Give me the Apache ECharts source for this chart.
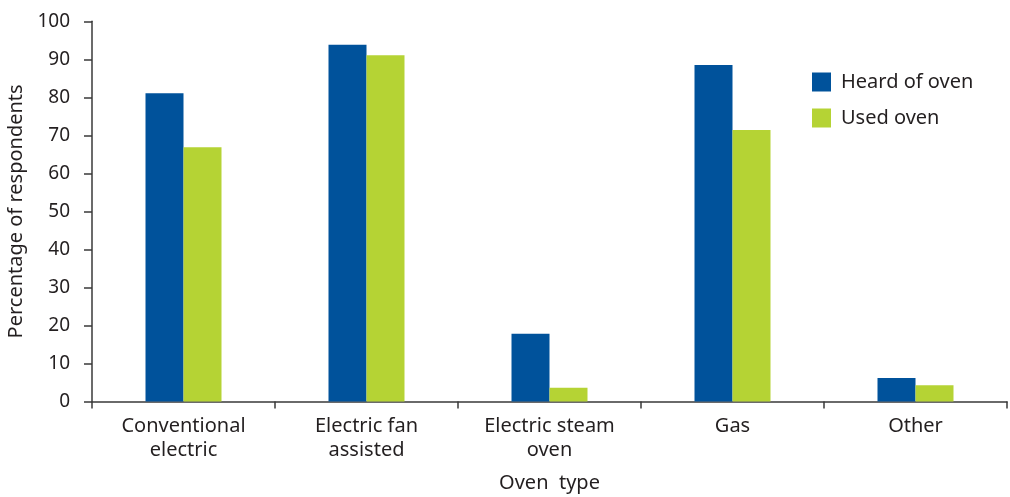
<!DOCTYPE html>
<html>
<head>
<meta charset="utf-8">
<script src="https://cdn.jsdelivr.net/npm/echarts@6/dist/echarts.min.js"></script>
<style>
  html, body { margin: 0; padding: 0; background: #ffffff; }
  #chart { width: 1010px; height: 497px; }
</style>
</head>
<body>
<div id="chart"></div>
<script>
// Oven types surveyed
const categories = ['Conventional\nelectric', 'Electric fan\nassisted', 'Electric steam\noven', 'Gas', 'Other'];
// Share of respondents (%)
const heardOf = [81.1, 93.8, 17.8, 88.5, 6.2];
const usedOven = [66.9, 91.1, 3.6, 71.4, 4.3];
const seriesNames = ['Heard of oven', 'Used oven'];

const textColor = '#231f20';
const fontFamily = '"Noto Sans", sans-serif';

const chart = echarts.init(document.getElementById('chart'), null, { renderer: 'canvas' });

chart.setOption({
  animation: false,
  textStyle: { fontFamily: fontFamily, color: textColor },
  grid: { left: 92, right: 3, top: 21.3, bottom: 95.5, containLabel: false, outerBoundsMode: 'none' },
  legend: {
    orient: 'vertical',
    left: 812,
    top: 72,
    padding: 0,
    itemWidth: 19,
    itemHeight: 19,
    itemGap: 16,
    icon: 'rect',
    data: seriesNames,
    textStyle: { fontSize: 20, color: textColor, fontFamily: fontFamily, padding: [0, 0, 0, 5] }
  },
  xAxis: {
    type: 'category',
    data: categories,
    name: 'Oven  type',
    nameLocation: 'middle',
    nameGap: 72,
    nameTextStyle: { fontSize: 20, color: textColor },
    axisLine: { lineStyle: { color: '#3a3a3a', width: 1.5 } },
    axisTick: { show: true, length: 7, alignWithLabel: false, lineStyle: { color: '#3a3a3a', width: 1.5 } },
    axisLabel: { fontSize: 20, color: textColor, margin: 13, lineHeight: 24, interval: 0 }
  },
  yAxis: {
    type: 'value',
    min: 0,
    max: 100,
    interval: 10,
    name: 'Percentage of respondents',
    nameLocation: 'middle',
    nameGap: 55,
    nameTextStyle: { fontSize: 20, color: textColor },
    splitLine: { show: false },
    axisLine: { show: true, lineStyle: { color: '#3a3a3a', width: 1.5 } },
    axisTick: { show: true, length: 8, lineStyle: { color: '#3a3a3a', width: 1.5 } },
    axisLabel: { fontSize: 19, color: textColor, margin: 22 }
  },
  series: [
    {
      name: seriesNames[0],
      type: 'bar',
      data: heardOf,
      barWidth: 38,
      barGap: '0%',
      itemStyle: { color: '#00529b' }
    },
    {
      name: seriesNames[1],
      type: 'bar',
      data: usedOven,
      barWidth: 38,
      barGap: '0%',
      itemStyle: { color: '#b5d334' }
    }
  ]
});
</script>
</body>
</html>
